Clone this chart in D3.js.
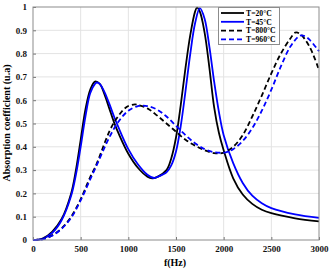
<!DOCTYPE html>
<html>
<head>
<meta charset="utf-8">
<script src="https://cdn.jsdelivr.net/npm/d3@7"></script>
<style>
  body { margin: 0; background: #fff; }
  text { font-family: "Liberation Serif", "Times New Roman", serif; font-weight: bold; }
</style>
</head>
<body>
<div id="chart"></div>
<script>
// frequency (Hz) and absorption coefficient
const f20  = [0,100,200,300,400,450,500,550,600,650,700,750,800,850,900,1000,1100,1200,1250,1300,1400,1450,1500,1550,1600,1650,1700,1720,1750,1800,1850,1900,1950,2000,2100,2200,2300,2400,2500,2750,3000];
const a20  = [0,0.006,0.035,0.09,0.2,0.3,0.43,0.56,0.645,0.68,0.67,0.625,0.565,0.505,0.455,0.37,0.31,0.272,0.265,0.27,0.3,0.35,0.44,0.58,0.74,0.88,0.98,0.997,0.98,0.89,0.74,0.57,0.46,0.385,0.265,0.195,0.155,0.13,0.115,0.093,0.08];

const f45  = [0,100,200,300,400,450,500,550,600,650,670,700,750,800,850,900,1000,1100,1200,1270,1300,1400,1450,1500,1550,1600,1650,1700,1750,1800,1850,1900,1950,2000,2100,2200,2300,2400,2500,2750,3000];
const a45  = [0,0.005,0.03,0.085,0.19,0.28,0.4,0.53,0.63,0.67,0.676,0.67,0.635,0.585,0.53,0.48,0.39,0.325,0.28,0.266,0.27,0.29,0.32,0.38,0.49,0.64,0.8,0.93,0.995,0.95,0.83,0.68,0.55,0.45,0.33,0.245,0.19,0.158,0.137,0.11,0.095];

const f800 = [0,100,200,300,400,500,600,650,700,750,800,850,900,950,1000,1070,1100,1200,1300,1400,1500,1600,1700,1800,1900,1950,2000,2100,2200,2300,2400,2500,2600,2700,2750,2800,2900,3000];
const a800 = [0,0.004,0.02,0.05,0.1,0.175,0.27,0.31,0.36,0.415,0.465,0.505,0.535,0.56,0.575,0.582,0.58,0.565,0.535,0.5,0.465,0.43,0.405,0.385,0.373,0.372,0.375,0.4,0.45,0.53,0.62,0.715,0.8,0.865,0.89,0.885,0.83,0.73];

const f960 = [0,100,200,300,400,500,600,700,800,900,1000,1100,1150,1200,1300,1400,1500,1600,1700,1800,1900,2000,2050,2100,2200,2300,2400,2500,2600,2700,2800,2850,2900,3000];
const a960 = [0,0.003,0.018,0.048,0.095,0.17,0.26,0.35,0.44,0.51,0.555,0.575,0.577,0.575,0.56,0.53,0.49,0.45,0.415,0.39,0.377,0.375,0.38,0.39,0.425,0.48,0.555,0.645,0.745,0.83,0.877,0.875,0.86,0.81];

const seriesNames = ['T=20°C', 'T=45°C', 'T=800°C', 'T=960°C'];
const xTicks = [0,500,1000,1500,2000,2500,3000];
const yTicks = [0,0.1,0.2,0.3,0.4,0.5,0.6,0.7,0.8,0.9,1];

const width = 330, height = 271;
const mLeft = 33, mRight = 319, mTop = 7, mBottom = 240;

const svg = d3.select('#chart')
              .append('svg')
              .attr('width', width)
              .attr('height', height);

let x = d3.scaleLinear().domain([0,3000]).range([mLeft,mRight]);
let y = d3.scaleLinear().domain([0,1]).range([mBottom,mTop]);

// grid
svg.append('g')
   .selectAll('line')
   .data(xTicks.slice(1,-1))
   .enter().append('line')
   .attr('x1', d=>x(d)).attr('x2', d=>x(d))
   .attr('y1', mTop).attr('y2', mBottom)
   .style('stroke', '#e3e3e3').style('stroke-width', 1);

svg.append('g')
   .selectAll('line')
   .data(yTicks.slice(1,-1))
   .enter().append('line')
   .attr('x1', mLeft).attr('x2', mRight)
   .attr('y1', d=>y(d)).attr('y2', d=>y(d))
   .style('stroke', '#e3e3e3').style('stroke-width', 1);

// axes
let xAxis = d3.axisBottom(x).tickValues(xTicks).tickSizeInner(-3).tickSizeOuter(0).tickPadding(6)
              .tickFormat(d3.format('d'));
let yAxis = d3.axisLeft(y).tickValues(yTicks).tickSizeInner(-3).tickSizeOuter(0).tickPadding(6)
              .tickFormat(d => d===0 ? '0' : d===1 ? '1' : d3.format('.1f')(d));

let xg = svg.append('g').attr('transform', 'translate(0,' + mBottom + ')').call(xAxis);
let yg = svg.append('g').attr('transform', 'translate(' + mLeft + ',0)').call(yAxis);

[xg, yg].forEach(g => {
  g.select('.domain').remove();
  g.selectAll('.tick line').style('stroke', '#777');
  g.selectAll('.tick text').style('font-size', '9px').style('fill', '#111');
});

// curves
let line = d3.line()
             .x(d=>x(d[0]))
             .y(d=>y(d[1]))
             .curve(d3.curveCatmullRom.alpha(0.5));

const curves = [
  {f: f20,  a: a20,  color: '#000000', dash: null},
  {f: f45,  a: a45,  color: '#0000ff', dash: null},
  {f: f800, a: a800, color: '#000000', dash: '5,3'},
  {f: f960, a: a960, color: '#0000ff', dash: '5,3'}
];

curves.forEach(c => {
  svg.append('path')
     .datum(c.f.map((v,i)=>[v, c.a[i]]))
     .attr('d', line)
     .style('fill', 'none')
     .style('stroke', c.color)
     .style('stroke-width', 1.8)
     .style('stroke-dasharray', c.dash);
});

// frame
svg.append('rect')
   .attr('x', mLeft).attr('y', mTop)
   .attr('width', mRight-mLeft).attr('height', mBottom-mTop)
   .style('fill', 'none').style('stroke', '#8c8c8c').style('stroke-width', 1);

// legend
let lg = svg.append('g');
lg.append('rect')
  .attr('x', 218.5).attr('y', 7.5)
  .attr('width', 61).attr('height', 37)
  .style('fill', '#fff').style('stroke', '#8c8c8c').style('stroke-width', 1);

seriesNames.forEach((name, i) => {
  let ly = 13 + i*8.8;
  lg.append('line')
    .attr('x1', 221).attr('x2', 244)
    .attr('y1', ly).attr('y2', ly)
    .style('stroke', curves[i].color)
    .style('stroke-width', 1.8)
    .style('stroke-dasharray', curves[i].dash);
  lg.append('text')
    .attr('x', 246).attr('y', ly + 2.8)
    .style('font-size', '7.7px')
    .text(name);
});

// axis titles
svg.append('text')
   .attr('x', 175).attr('y', 266)
   .style('text-anchor', 'middle')
   .style('font-size', '10px')
   .text('f(Hz)');

svg.append('text')
   .attr('transform', 'translate(10,123) rotate(-90)')
   .style('text-anchor', 'middle')
   .style('font-size', '10px')
   .text('Absorption coefficient (u.a)');
</script>
</body>
</html>
